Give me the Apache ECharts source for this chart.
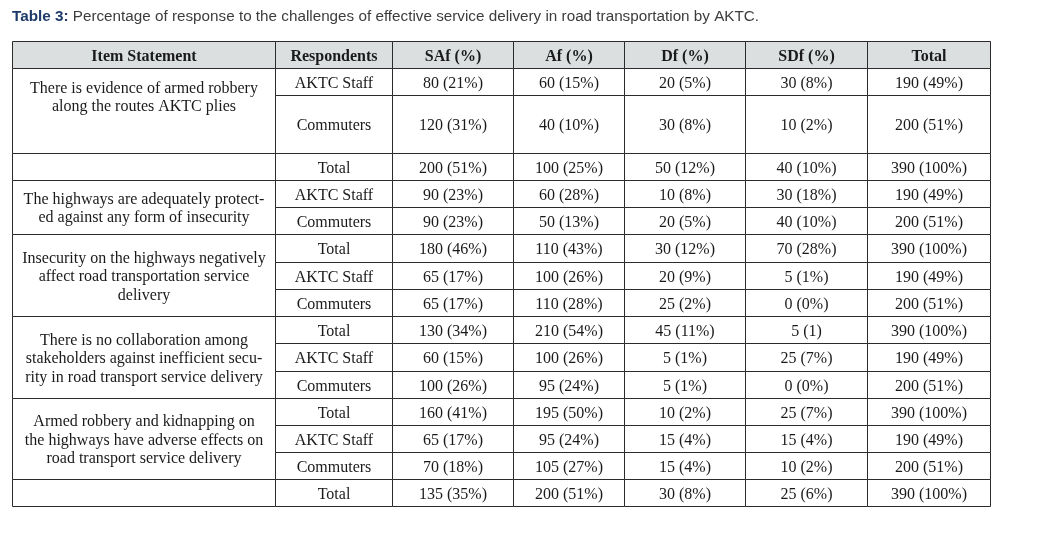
<!DOCTYPE html>
<html>
<head>
<meta charset="utf-8">
<script src="https://cdn.jsdelivr.net/npm/echarts@6/dist/echarts.min.js"></script>
<style>
  html, body { margin: 0; padding: 0; background: #fff; }
  #main { width: 1037px; height: 544px; }
</style>
</head>
<body>
<div id="main"></div>
<script>
// table content
const headers = ['Item Statement', 'Respondents', 'SAf (%)', 'Af (%)', 'Df (%)', 'SDf (%)', 'Total'];
const itemStatements = [
  'There is evidence of armed robbery\nalong the routes AKTC plies',
  '',
  'The highways are adequately protect-\ned against any form of insecurity',
  'Insecurity on the highways negatively\naffect road transportation service\ndelivery',
  'There is no collaboration among\nstakeholders against inefficient secu-\nrity in road transport service delivery',
  'Armed robbery and kidnapping on\nthe highways have adverse effects on\nroad transport service delivery',
  ''
];
const itemRowSpans = [2, 1, 2, 3, 3, 3, 1];
const respondents = ['AKTC Staff', 'Commuters', 'Total', 'AKTC Staff', 'Commuters', 'Total', 'AKTC Staff', 'Commuters',
  'Total', 'AKTC Staff', 'Commuters', 'Total', 'AKTC Staff', 'Commuters', 'Total'];
const safValues = ['80 (21%)', '120 (31%)', '200 (51%)', '90 (23%)', '90 (23%)', '180 (46%)', '65 (17%)', '65 (17%)',
  '130 (34%)', '60 (15%)', '100 (26%)', '160 (41%)', '65 (17%)', '70 (18%)', '135 (35%)'];
const afValues = ['60 (15%)', '40 (10%)', '100 (25%)', '60 (28%)', '50 (13%)', '110 (43%)', '100 (26%)', '110 (28%)',
  '210 (54%)', '100 (26%)', '95 (24%)', '195 (50%)', '95 (24%)', '105 (27%)', '200 (51%)'];
const dfValues = ['20 (5%)', '30 (8%)', '50 (12%)', '10 (8%)', '20 (5%)', '30 (12%)', '20 (9%)', '25 (2%)',
  '45 (11%)', '5 (1%)', '5 (1%)', '10 (2%)', '15 (4%)', '15 (4%)', '30 (8%)'];
const sdfValues = ['30 (8%)', '10 (2%)', '40 (10%)', '30 (18%)', '40 (10%)', '70 (28%)', '5 (1%)', '0 (0%)',
  '5 (1)', '25 (7%)', '0 (0%)', '25 (7%)', '15 (4%)', '10 (2%)', '25 (6%)'];
const totalValues = ['190 (49%)', '200 (51%)', '390 (100%)', '190 (49%)', '200 (51%)', '390 (100%)', '190 (49%)', '200 (51%)',
  '390 (100%)', '190 (49%)', '200 (51%)', '390 (100%)', '190 (49%)', '200 (51%)', '390 (100%)'];

// layout (px, relative to grid origin)
const colEdges = [0, 263, 380, 501, 612, 733, 855, 978];
const rowEdges = [0, 27, 54, 112, 139, 166, 193, 221, 248, 275, 302, 330, 357, 384, 411, 438, 465];

const cells = [];
headers.forEach((h, c) => {
  cells.push({ x0: colEdges[c], x1: colEdges[c + 1], y0: rowEdges[0], y1: rowEdges[1], text: h, header: true });
});
let r = 0;
itemStatements.forEach((s, i) => {
  const span = itemRowSpans[i];
  cells.push({ x0: colEdges[0], x1: colEdges[1], y0: rowEdges[r + 1], y1: rowEdges[r + 1 + span], text: s, top: i === 0 });
  r += span;
});
const dataCols = [respondents, safValues, afValues, dfValues, sdfValues, totalValues];
respondents.forEach((_, i) => {
  dataCols.forEach((col, c) => {
    cells.push({ x0: colEdges[c + 1], x1: colEdges[c + 2], y0: rowEdges[i + 1], y1: rowEdges[i + 2], text: col[i] });
  });
});

const snap = v => Math.round(v) + 0.5;

const chart = echarts.init(document.getElementById('main'), null, { renderer: 'canvas' });
chart.setOption({
  animation: false,
  title: {
    left: 12,
    top: 9,
    padding: 0,
    text: '{b|Table 3:} Percentage of response to the challenges of effective service delivery in road transportation by AKTC.',
    textStyle: {
      fontFamily: 'Liberation Sans, Arial, sans-serif',
      fontSize: 15.25,
      lineHeight: 16,
      fontWeight: 'normal',
      color: '#3c3c3c',
      rich: {
        b: { fontFamily: 'Liberation Sans, Arial, sans-serif', fontSize: 15.25, lineHeight: 16, fontWeight: 'bold', color: '#1d3a68' }
      }
    }
  },
  grid: { left: 12, top: 41, right: 47, bottom: 38 },
  xAxis: { type: 'value', min: 0, max: 978, show: false },
  yAxis: { type: 'value', min: 0, max: 465, inverse: true, show: false },
  series: [{
    type: 'custom',
    silent: true,
    encode: { x: [0, 2], y: [1, 3] },
    data: cells.map(c => [c.x0, c.y0, c.x1, c.y1]),
    renderItem: (params, api) => {
      const c = cells[params.dataIndex];
      const p0 = api.coord([c.x0, c.y0]);
      const p1 = api.coord([c.x1, c.y1]);
      const x0 = snap(p0[0]), y0 = snap(p0[1]), x1 = snap(p1[0]), y1 = snap(p1[1]);
      const cx = (x0 + x1) / 2;
      const children = [{
        type: 'rect',
        shape: { x: x0, y: y0, width: x1 - x0, height: y1 - y0 },
        style: { fill: c.header ? '#dcdfe0' : '#fff', stroke: '#2b2b2b', lineWidth: 1 }
      }];
      if (c.text) {
        children.push({
          type: 'text',
          z2: 10,
          style: {
            text: c.text,
            x: cx,
            y: c.top ? y0 + 11 : (y0 + y1) / 2 + 1.5,
            align: 'center',
            verticalAlign: c.top ? 'top' : 'middle',
            fontFamily: 'Liberation Serif, Times New Roman, serif',
            fontSize: 16,
            fontWeight: c.header ? 'bold' : 'normal',
            lineHeight: 18.5,
            fill: '#1a1a1a'
          }
        });
      }
      return { type: 'group', children };
    }
  }]
});
</script>
</body>
</html>
